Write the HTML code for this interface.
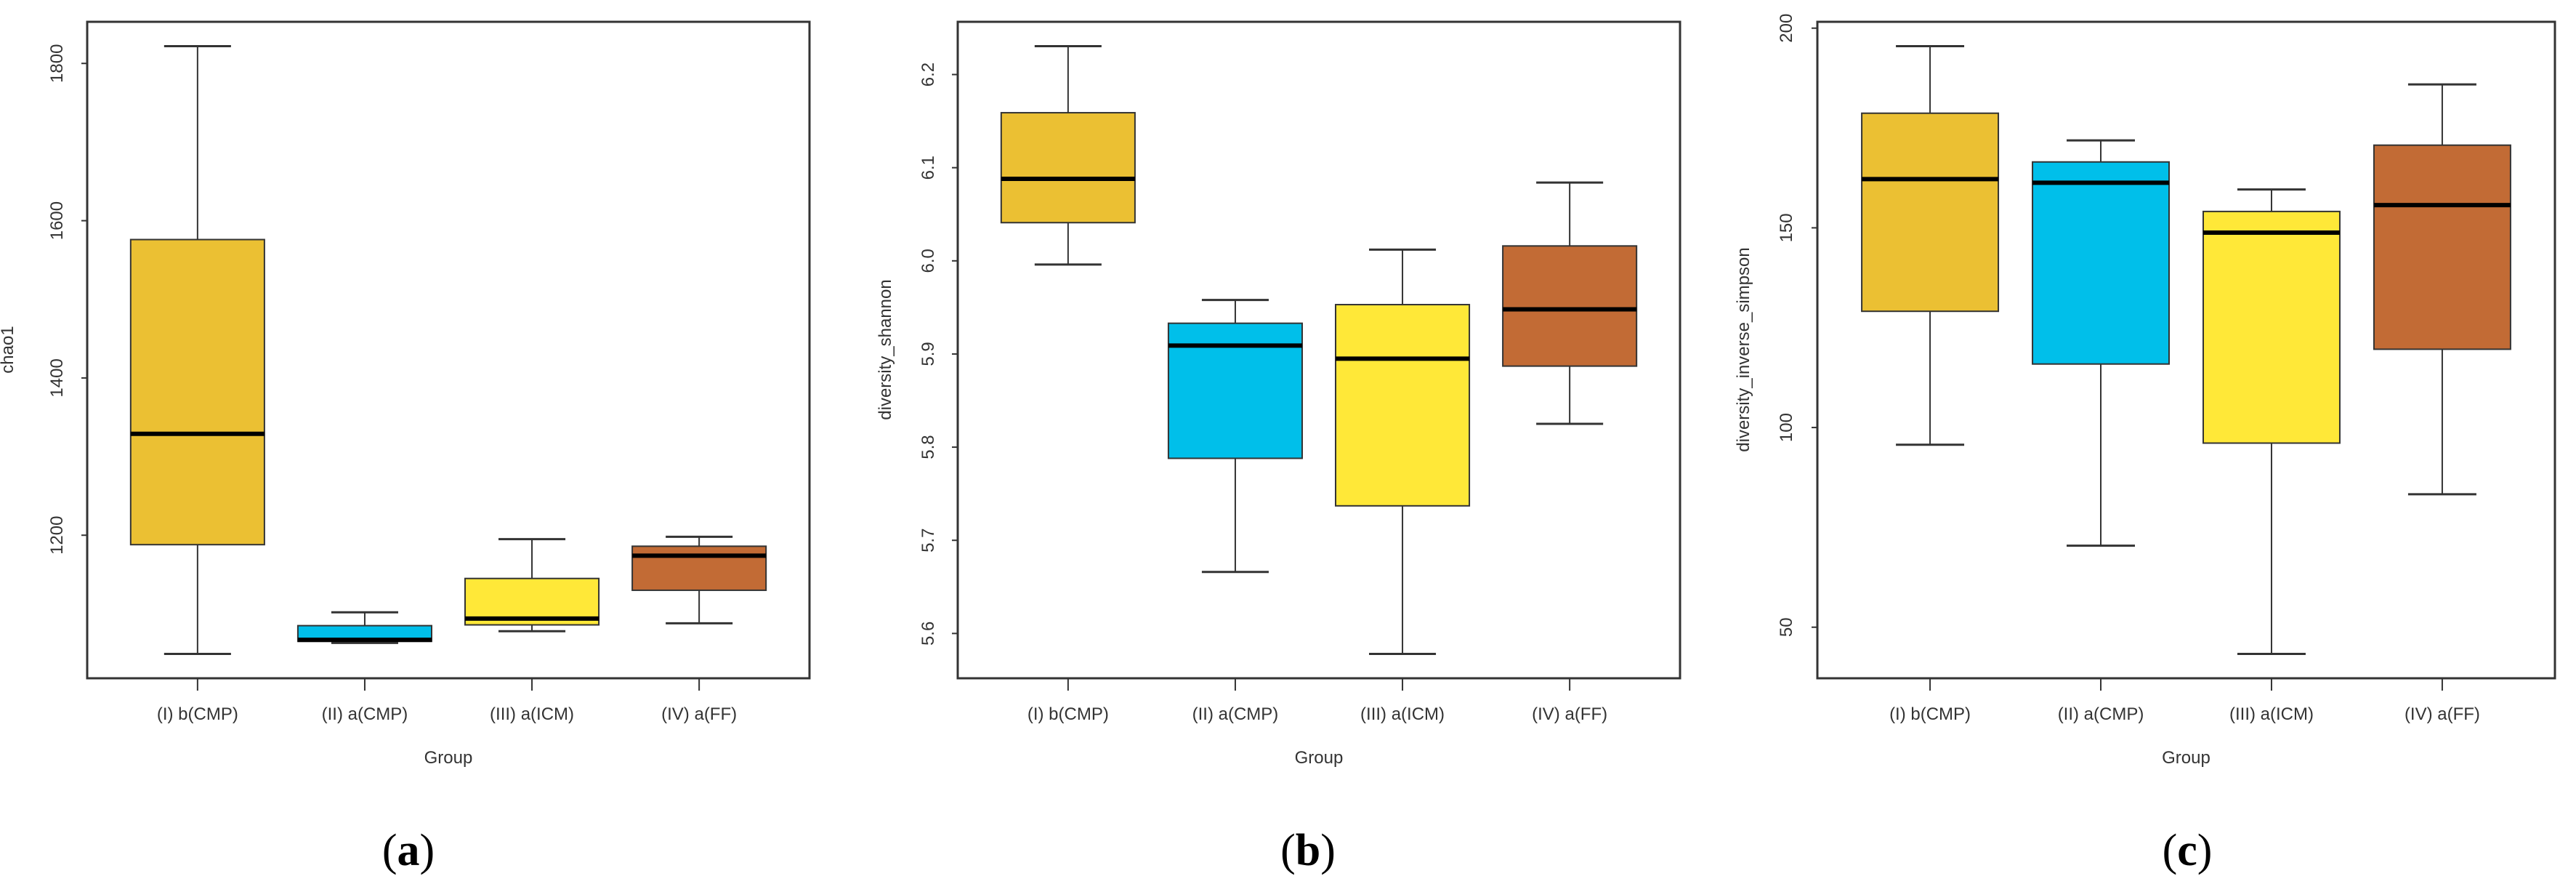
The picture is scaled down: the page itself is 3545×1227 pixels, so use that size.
<!DOCTYPE html>
<html><head><meta charset="utf-8"><style>
html,body{margin:0;padding:0;background:#fff;}
svg{display:block;font-family:"Liberation Sans",sans-serif;}
</style></head><body>
<svg id="fig" xmlns="http://www.w3.org/2000/svg" width="3545" height="1227" viewBox="0 0 3545 1227"></svg>
<script>
const categories = ["(I) b(CMP)", "(II) a(CMP)", "(III) a(ICM)", "(IV) a(FF)"];
const boxColors = ["#EBC033", "#00BFEA", "#FFE838", "#C26B35"];
// panel a: chao1 [lowWhisker, Q1, median, Q3, highWhisker]
const chaoStats = [[1049,1188,1329,1576,1822],[1063,1065,1067,1085,1102],[1078,1086,1094,1145,1195],[1088,1130,1174,1186,1198]];
const chaoTicks = [1200,1400,1600,1800];
const shannonStats = [[5.996,6.041,6.088,6.159,6.2305],[5.666,5.788,5.909,5.933,5.958],[5.578,5.737,5.895,5.953,6.012],[5.825,5.887,5.948,6.016,6.084]];
const shannonTicks = [5.6,5.7,5.8,5.9,6.0,6.1,6.2];
const shannonTickLabels = ["5.6","5.7","5.8","5.9","6.0","6.1","6.2"];
const simpsonStats = [[95.7,129.1,162.2,178.7,195.5],[70.4,115.9,161.3,166.5,171.9],[43.3,96.1,148.8,154.1,159.6],[83.3,119.6,155.7,170.7,185.9]];
const simpsonTicks = [50,100,150,200];

const NS="http://www.w3.org/2000/svg";
const svg=document.getElementById('fig');
function mk(tag,attrs,parent,text){const e=document.createElementNS(NS,tag);for(const k in attrs)e.setAttribute(k,attrs[k]);if(text!==undefined)e.textContent=text;(parent||svg).appendChild(e);return e;}

function panel(cfg){
  const g=mk('g',{});
  
  
  const L=cfg.left,R=cfg.right,T=30,B=933;
  let lo=Infinity,hi=-Infinity;
  cfg.stats.forEach(s=>{lo=Math.min(lo,s[0]);hi=Math.max(hi,s[4]);});
  const pad=(hi-lo)*0.04; const y0=lo-pad,y1=hi+pad;
  const y=v=>B-(v-y0)/(y1-y0)*(B-T);
  const n=categories.length; const x0=0.5-0.04*n,x1=n+0.5+0.04*n;
  const x=v=>L+(v-x0)/(x1-x0)*(R-L);
  const unit=(R-L)/(x1-x0);
  cfg.stats.forEach((s,i)=>{
    const cx=x(i+1);
    const bg=mk('g',{},g);
    
    
    mk('line',{x1:cx,x2:cx,y1:y(s[4]),y2:y(s[3]),stroke:'#333','stroke-width':2},bg);
    mk('line',{x1:cx,x2:cx,y1:y(s[1]),y2:y(s[0]),stroke:'#333','stroke-width':2},bg);
    mk('line',{x1:cx-0.2*unit,x2:cx+0.2*unit,y1:y(s[4]),y2:y(s[4]),stroke:'#333','stroke-width':3},bg);
    mk('line',{x1:cx-0.2*unit,x2:cx+0.2*unit,y1:y(s[0]),y2:y(s[0]),stroke:'#333','stroke-width':3},bg);
    mk('rect',{x:cx-0.4*unit,y:y(s[3]),width:0.8*unit,height:Math.max(1,y(s[1])-y(s[3])),fill:boxColors[i],stroke:'#333','stroke-width':2},bg);
    mk('line',{x1:cx-0.4*unit,x2:cx+0.4*unit,y1:y(s[2]),y2:y(s[2]),stroke:'#000','stroke-width':6},bg);
    mk('line',{x1:cx,x2:cx,y1:B,y2:B+17,stroke:'#333','stroke-width':2},g);
    const t=mk('text',{x:cx,y:990,'text-anchor':'middle','font-size':24,fill:'#333'},g,categories[i]);
    
    
  });
  cfg.ticks.forEach((v,i)=>{
    const ty=y(v);
    mk('line',{x1:L-8,x2:L,y1:ty,y2:ty,stroke:'#333','stroke-width':2},g);
    const t=mk('text',{x:cfg.tickX,y:ty,'text-anchor':'middle','font-size':24,fill:'#333',transform:`rotate(-90 ${cfg.tickX} ${ty})`},g,cfg.tickLabels?cfg.tickLabels[i]:String(v));
    
    
  });
  const fr=mk('rect',{x:L,y:T,width:R-L,height:B-T,fill:'none',stroke:'#333','stroke-width':3},g);
  
  
  const yt=mk('text',{x:cfg.titleX,y:481,'text-anchor':'middle','font-size':24,fill:'#333',transform:`rotate(-90 ${cfg.titleX} 481)`},g,cfg.ytitle);
  
  
  const xt=mk('text',{x:(L+R)/2,y:1050,'text-anchor':'middle','font-size':24,fill:'#333'},g,'Group');
  
  
  const pl=mk('text',{x:cfg.labelX,y:1190,'text-anchor':'middle','font-size':62,fill:'#000','font-family':'Liberation Serif, serif'},g);
  
  
  mk('tspan',{},pl,'(');mk('tspan',{'font-weight':'bold'},pl,cfg.letter);mk('tspan',{},pl,')');
}
panel({name:'panel-a-chao1',left:120,right:1114,stats:chaoStats,ticks:chaoTicks,tickX:86,titleX:18,ytitle:'chao1',labelX:562,letter:'a'});
panel({name:'panel-b-shannon',left:1318,right:2312,stats:shannonStats,ticks:shannonTicks,tickLabels:shannonTickLabels,tickX:1285,titleX:1226,ytitle:'diversity_shannon',labelX:1800,letter:'b'});
panel({name:'panel-c-inverse-simpson',left:2501,right:3516,stats:simpsonStats,ticks:simpsonTicks,tickX:2466,titleX:2407,ytitle:'diversity_inverse_simpson',labelX:3010,letter:'c'});
</script>
</body></html>
